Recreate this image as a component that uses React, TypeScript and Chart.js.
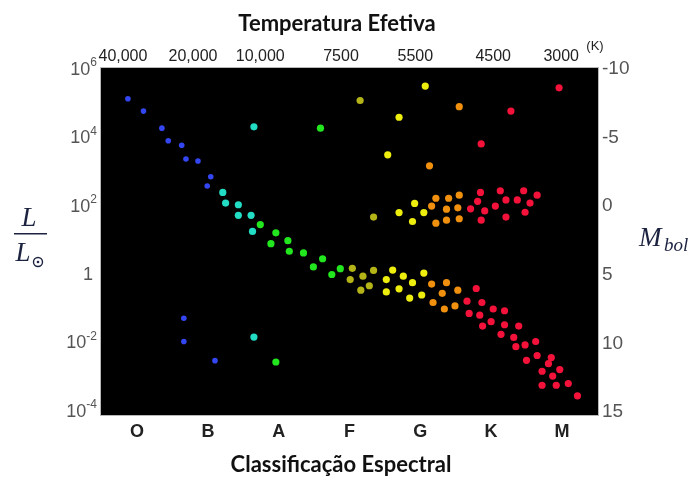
import { useEffect, useRef } from "react";
import { Chart, registerables } from "chart.js";
Chart.register(...registerables);

const spectralClasses = ["O", "B", "A", "F", "G", "K", "M"];
const temperatureLabels = ["40,000", "20,000", "10,000", "7500", "5500", "4500", "3000"];
const temperatureTickPos = [-0.2, 0.79, 1.74, 2.88, 3.93, 5.03, 5.99];
const lumTickExponents = [-4, -2, 0, 2, 4, 6];
const mbolTicks = [-10, -5, 0, 5, 10, 15];

const blueX = [-0.13, 0.09, 0.35, 0.44, 0.63, 0.69, 0.86, 1.04, 0.99, 0.66, 0.66, 1.1];
const blueLogL = [5.13, 4.77, 4.27, 3.9, 3.77, 3.37, 3.31, 2.85, 2.58, -1.29, -1.97, -2.53];

const cyanX = [1.65, 1.21, 1.25, 1.43, 1.43, 1.61, 1.63, 1.65];
const cyanLogL = [4.31, 2.39, 2.08, 2.03, 1.72, 1.72, 1.25, -1.84];

const greenX = [2.59, 1.74, 1.96, 2.13, 1.89, 2.15, 2.35, 2.62, 2.49, 2.75, 2.87, 1.96];
const greenLogL = [4.27, 1.45, 1.21, 0.98, 0.89, 0.67, 0.62, 0.45, 0.21, -0.01, 0.16, -2.57];

const oliveX = [3.15, 3.34, 3.04, 3.01, 3.19, 3.34, 3.16, 3.28];
const oliveLogL = [5.08, 1.67, 0.17, -0.16, -0.06, 0.11, -0.47, -0.34];

const yellowX = [4.07, 3.7, 3.54, 3.7, 3.89, 4.05, 3.92, 3.61, 3.52, 3.52, 3.76, 3.7, 3.89, 3.85, 4.02, 4.05];
const yellowLogL = [5.5, 4.59, 3.49, 1.8, 1.54, 1.8, 2.07, 0.12, -0.16, -0.52, -0.06, -0.43, -0.25, -0.7, -0.61, 0.03];

const orangeX = [4.55, 4.13, 4.16, 4.22, 4.4, 4.37, 4.22, 4.37, 4.53, 4.55, 4.55, 4.16, 4.37, 4.31, 4.53, 4.18, 4.34, 4.49];
const orangeLogL = [4.9, 3.17, 1.99, 2.22, 2.22, 1.9, 1.49, 1.58, 1.94, 2.31, 1.62, -0.29, -0.25, -0.56, -0.47, -0.83, -1.02, -0.93];

const redX = [5.96, 5.28, 4.86, 4.85, 4.81, 4.71, 4.91, 4.86, 5.06, 5.13, 5.21, 5.21, 5.37, 5.46, 5.55, 5.48, 5.65,
  4.79, 4.66, 4.87, 5.03, 5.19, 4.69, 4.84, 5.0, 4.88, 5.19, 5.39, 5.14, 5.32, 5.35, 5.48, 5.63, 5.5, 5.65, 5.85, 5.81,
  5.97, 5.72, 5.87, 5.72, 5.92, 6.09, 6.22];
const redLogL = [5.45, 4.77, 3.81, 2.39, 2.13, 1.91, 1.85, 1.58, 1.99, 2.44, 2.17, 1.67, 2.17, 2.44, 2.08, 1.81, 2.31,
  -0.42, -0.79, -0.83, -1.02, -1.07, -1.15, -1.2, -1.39, -1.52, -1.48, -1.52, -1.76, -1.85, -2.12, -2.07, -1.97, -2.52,
  -2.38, -2.44, -2.62, -2.79, -2.84, -2.98, -3.25, -3.25, -3.2, -3.56];

const pts = (xs: number[], ys: number[]) => xs.map((x, i) => ({ x, y: ys[i] }));

const overlay = {
  id: "overlay",
  beforeDatasetsDraw(chart: any) {
    const { ctx, chartArea: a } = chart;
    ctx.save();
    ctx.fillStyle = "#000";
    ctx.fillRect(a.left, a.top, a.right - a.left, a.bottom - a.top);
    ctx.strokeStyle = "#b8b8b8";
    ctx.lineWidth = 1;
    ctx.strokeRect(a.left - 0.5, a.top - 0.5, a.right - a.left + 1, a.bottom - a.top + 1);
    ctx.restore();
  },
  afterDraw(chart: any) {
    const { ctx } = chart;
    const ys = chart.scales.y;
    ctx.save();
    // left tick labels
    ctx.fillStyle = "#555";
    ctx.textBaseline = "middle";
    lumTickExponents.forEach((e) => {
      const py = ys.getPixelForValue(e);
      if (e === 0) {
        ctx.font = "18px 'Liberation Sans', Arial, sans-serif";
        ctx.textAlign = "right";
        ctx.fillText("1", 93, py + 1);
      } else {
        const exp = String(e);
        ctx.font = "12px 'Liberation Sans', Arial, sans-serif";
        const ew = ctx.measureText(exp).width;
        ctx.textAlign = "left";
        ctx.fillText(exp, 97 - ew, py - 6);
        ctx.font = "18px 'Liberation Sans', Arial, sans-serif";
        ctx.textAlign = "right";
        ctx.fillText("10", 97 - ew, py + 1);
      }
    });
    // (K)
    ctx.fillStyle = "#222";
    ctx.font = "13px 'Liberation Sans', Arial, sans-serif";
    ctx.textAlign = "center";
    ctx.fillText("(K)", 595, 46);
    // titles
    ctx.font = "bold 22px Lato, 'Open Sans', sans-serif";
    ctx.fillStyle = "#111";
    ctx.fillText("Temperatura Efetiva", 337, 24);
    ctx.fillText("Classificação Espectral", 341, 465);
    // L / Lsun
    ctx.fillStyle = "#1c2340";
    ctx.font = "italic 27px 'Liberation Serif', 'DejaVu Serif', serif";
    ctx.textAlign = "center";
    ctx.fillText("L", 29, 219);
    ctx.fillRect(14, 233, 33, 1.5);
    ctx.fillText("L", 23, 254);
    // sun symbol
    ctx.strokeStyle = "#1c2340";
    ctx.lineWidth = 1.4;
    ctx.beginPath();
    ctx.arc(38, 262, 4.5, 0, Math.PI * 2);
    ctx.stroke();
    ctx.beginPath();
    ctx.arc(38, 262, 1.3, 0, Math.PI * 2);
    ctx.fill();
    // M_bol
    ctx.textAlign = "left";
    ctx.font = "italic 27px 'Liberation Serif', 'DejaVu Serif', serif";
    ctx.fillText("M", 639, 239);
    ctx.font = "italic 19px 'Liberation Serif', 'DejaVu Serif', serif";
    ctx.fillText("bol", 664, 246);
    ctx.restore();
  },
};

export default function App() {
  const ref = useRef<HTMLCanvasElement>(null);
  useEffect(() => {
    if (!ref.current) return;
    const mk = (label: string, xs: number[], ys: number[], color: string, r: number) => ({
      label,
      data: pts(xs, ys),
      backgroundColor: color,
      borderWidth: 0,
      pointRadius: r,
      pointHoverRadius: r,
      xAxisID: "x",
      yAxisID: "y",
    });
    const chart = new Chart(ref.current, {
      type: "scatter",
      data: {
        datasets: [
          mk("O/B", blueX, blueLogL, "#3346f2", 2.8),
          mk("A", cyanX, cyanLogL, "#22dcc4", 3.6),
          mk("A/F", greenX, greenLogL, "#22e61e", 3.6),
          mk("F", oliveX, oliveLogL, "#b4b418", 3.6),
          mk("G", yellowX, yellowLogL, "#eeee0e", 3.6),
          mk("K", orangeX, orangeLogL, "#f0900e", 3.6),
          mk("M", redX, redLogL, "#f5123a", 3.6),
        ],
      },
      options: {
        animation: false,
        responsive: true,
        maintainAspectRatio: false,
        devicePixelRatio: 1,
        layout: { padding: 0 },
        plugins: { legend: { display: false }, tooltip: { enabled: false } },
        events: [],
        scales: {
          x: {
            type: "linear",
            position: "bottom",
            min: -0.51,
            max: 6.51,
            grid: { display: false, drawTicks: false },
            border: { display: false },
            afterBuildTicks: (s: any) => {
              s.ticks = spectralClasses.map((_, i) => ({ value: i }));
            },
            ticks: {
              autoSkip: false,
              maxRotation: 0,
              padding: 6,
              color: "#222",
              font: { family: "'Liberation Sans', Arial, sans-serif", size: 18, weight: "bold" },
              callback: (v: any) => spectralClasses[v] ?? "",
            },
            afterFit: (s: any) => {
              s.height = 67;
            },
          },
          xTop: {
            type: "linear",
            position: "top",
            min: -0.51,
            max: 6.51,
            grid: { display: false, drawTicks: false },
            border: { display: false },
            afterBuildTicks: (s: any) => {
              s.ticks = temperatureTickPos.map((p) => ({ value: p }));
            },
            ticks: {
              autoSkip: false,
              maxRotation: 0,
              padding: 2,
              color: "#222",
              font: { family: "'Liberation Sans', Arial, sans-serif", size: 16 },
              callback: (v: any) => {
                const i = temperatureTickPos.indexOf(v);
                return i >= 0 ? temperatureLabels[i] : "";
              },
            },
            afterFit: (s: any) => {
              s.height = 68;
            },
          },
          y: {
            type: "linear",
            position: "left",
            min: -4.12,
            max: 6.03,
            grid: { display: false, drawTicks: false },
            border: { display: false },
            ticks: { display: false },
            afterFit: (s: any) => {
              s.width = 101;
            },
          },
          yR: {
            type: "linear",
            position: "right",
            reverse: true,
            min: -10.05,
            max: 15.22,
            grid: { display: false, drawTicks: false },
            border: { display: false },
            afterBuildTicks: (s: any) => {
              s.ticks = mbolTicks.map((v) => ({ value: v }));
            },
            ticks: {
              padding: 4,
              color: "#555",
              font: { family: "'Liberation Sans', Arial, sans-serif", size: 19 },
              callback: (v: any) => String(v),
            },
            afterFit: (s: any) => {
              s.width = 94;
            },
          },
        },
      },
      plugins: [overlay],
    });
    return () => chart.destroy();
  }, []);
  return (
    <div style={{ position: "absolute", left: 0, top: 0, width: 692, height: 482, background: "#fff" }}>
      <canvas ref={ref} />
    </div>
  );
}
